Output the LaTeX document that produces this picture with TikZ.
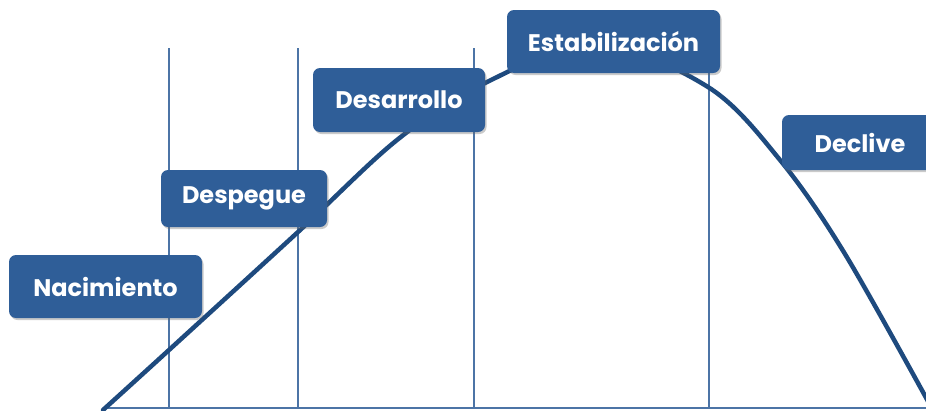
\documentclass[tikz,border=0pt]{standalone}
\usepackage{fontspec}
\setmainfont{Poppins}
\usetikzlibrary{shadows}
\definecolor{boxblue}{HTML}{2F5E98}
\definecolor{curveblue}{HTML}{1E4A7E}
\definecolor{lineblue}{HTML}{4C74A6}
\tikzset{
  stage/.style={fill=boxblue, rounded corners=7pt, text=white,
    font=\fontsize{24}{28}\selectfont\bfseries, inner sep=0pt,
    drop shadow={shadow xshift=1.5pt, shadow yshift=-2pt, opacity=0.35, fill=black!60}},
  guide/.style={draw=lineblue, line width=1.4pt},
  lifecurve/.style={draw=curveblue, line width=4.5pt}
}
\begin{document}
\begin{tikzpicture}[x=1pt,y=-1pt]
\useasboundingbox (0,0) rectangle (926,410);
\clip (0,0) rectangle (926,410);
% guide lines
\coordinate (v1t) at (169,48); \coordinate (v1b) at (169,408);
\coordinate (v2t) at (298,48); \coordinate (v2b) at (298,408);
\coordinate (v3t) at (474,48); \coordinate (v3b) at (474,408);
\coordinate (v4t) at (709,48); \coordinate (v4b) at (709,408);
\coordinate (bl) at (105,408); \coordinate (br) at (926,408);
\draw[guide] (v1t) -- (v1b);
\draw[guide] (v2t) -- (v2b);
\draw[guide] (v3t) -- (v3b);
\draw[guide] (v4t) -- (v4b);
\draw[guide] (bl) -- (br);
% curve
\draw[lifecurve, line cap=round] plot[smooth, tension=0.55] coordinates {
 (103,410) (169,350) (298,232) (397,140) (483,84) (595,44)
 (708,87) (780,160) (845,254) (935,414)};
% stages
\node[stage, minimum width=193pt, minimum height=63pt] (nac) at (105.5,286.5) {Nacimiento};
\node[stage, minimum width=166pt, minimum height=57pt] (des) at (244,198.5) {Despegue};
\node[stage, minimum width=172pt, minimum height=64pt] (dsr) at (399,100) {Desarrollo};
\node[stage, minimum width=213pt, minimum height=63pt] (est) at (613.5,41.5) {Estabilización};
\node[stage, minimum width=156pt, minimum height=55pt] (dec) at (860,142.5) {Declive};
\end{tikzpicture}
\end{document}
